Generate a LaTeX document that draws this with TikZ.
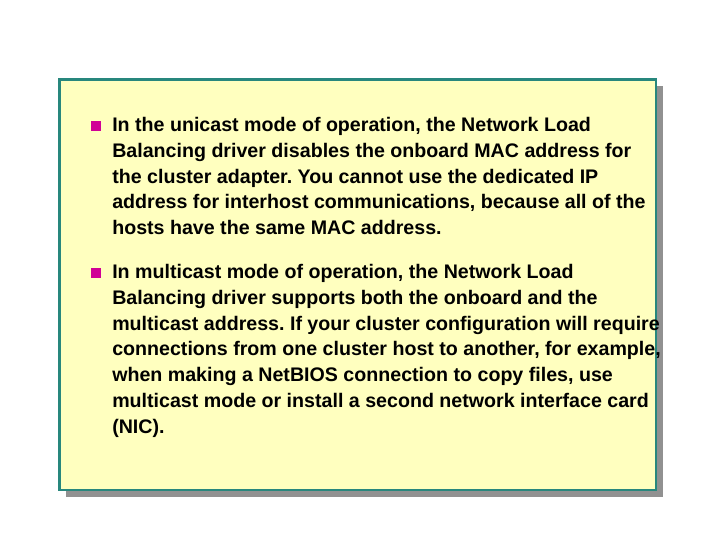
\documentclass[tikz,border=0pt]{standalone}
\usepackage{fontspec}
\setmainfont{Liberation Sans}
\usepackage{xcolor}
\definecolor{paneyellow}{RGB}{255,255,191}
\definecolor{paneedge}{RGB}{40,135,125}
\definecolor{paneshadow}{RGB}{145,145,145}
\definecolor{bulletpink}{RGB}{208,0,150}
\tikzset{
  bodytext/.style={anchor=north west,inner sep=0pt,align=left,font=\fontsize{14.72}{19.35}\selectfont\bfseries\frenchspacing},
  bulletbox/.style={fill=bulletpink,minimum size=7.5pt,inner sep=0pt}
}
\begin{document}
\begin{tikzpicture}[x=0.75pt,y=-0.75pt]
\useasboundingbox (0,0) rectangle (720,540);
\fill[white] (0,0) rectangle (720,540);
\fill[paneshadow] (66,86) rectangle (663,497);
\draw[paneedge,fill=paneyellow,line width=1.6pt] (59.5,79.5) rectangle (656,490);
\node[bulletbox] (bulletone) at (96,126) {};
\node[bulletbox] (bullettwo) at (96,273) {};
\node[bodytext] (unicast) at (112,117) {In the unicast mode of operation, the Network Load\\
Balancing driver disables the onboard MAC address for\\
the cluster adapter. You cannot use the dedicated IP\\
address for interhost communications, because all of the\\
hosts have the same MAC address.};
\node[bodytext] (multicast) at (112,264) {In multicast mode of operation, the Network Load\\
Balancing driver supports both the onboard and the\\
multicast address. If your cluster configuration will require\\
connections from one cluster host to another, for example,\\
when making a NetBIOS connection to copy files, use\\
multicast mode or install a second network interface card\\
(NIC).};
\end{tikzpicture}
\end{document}
